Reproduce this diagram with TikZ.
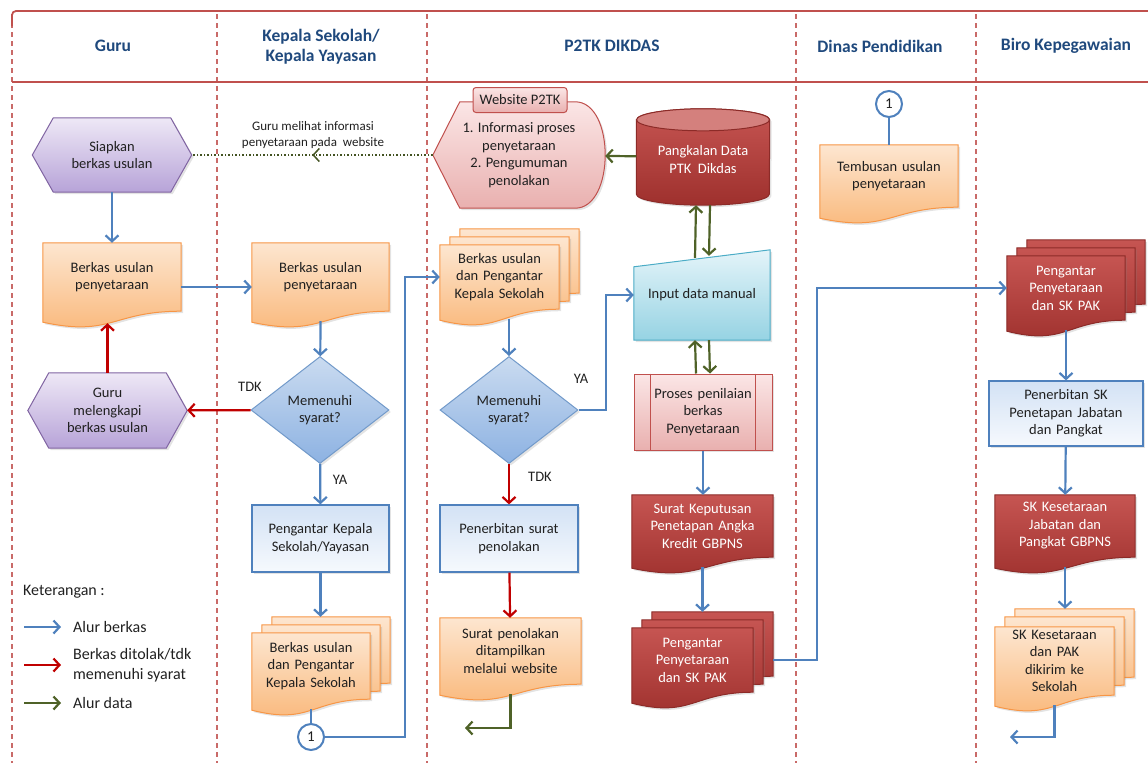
\documentclass[tikz,border=0pt]{standalone}
\usepackage{fontspec}
\setmainfont{Carlito}
\usetikzlibrary{arrows.meta,positioning,calc,backgrounds,shapes.geometric,decorations.markings,shadows}

\definecolor{hdrblue}{HTML}{1F497D}
\definecolor{lanered}{HTML}{C0504D}
\definecolor{txtgray}{HTML}{202020}
\definecolor{flowblue}{HTML}{4F81BD}
\definecolor{flowred}{HTML}{C00000}
\definecolor{flowgreen}{HTML}{4F6228}
\definecolor{orgtop}{HTML}{FDE6D0}
\definecolor{orgbot}{HTML}{F9B677}
\definecolor{orgline}{HTML}{F79646}
\definecolor{purtop}{HTML}{EEE8F6}
\definecolor{purbot}{HTML}{B7A3D8}
\definecolor{purline}{HTML}{8064A2}
\definecolor{bluetop}{HTML}{D3E2F5}
\definecolor{bluebot}{HTML}{F6F9FD}
\definecolor{diatop}{HTML}{CADBF0}
\definecolor{diabot}{HTML}{8DB2E2}
\definecolor{redtop}{HTML}{C65552}
\definecolor{redbot}{HTML}{9E302D}
\definecolor{redline}{HTML}{8C2B28}
\definecolor{pinktop}{HTML}{FBE6E6}
\definecolor{pinkbot}{HTML}{E9B0AF}
\definecolor{cyantop}{HTML}{E4F4F9}
\definecolor{cyanbot}{HTML}{96D3E3}
\definecolor{cyanline}{HTML}{4BACC6}

% document sheet with a wavy lower edge
\newcommand{\docpath}[1]{(#1.north west) -- (#1.north east) -- (#1.south east)
  .. controls (#1.south) and ($(#1.south)+(0,-26)$) .. ($(#1.south west)+(0,-11)$) -- cycle}
% preparation hexagon
\newcommand{\hexpath}[1]{(#1.west) -- ($(#1.north west)+(21,0)$) -- ($(#1.north east)+(-21,0)$)
  -- (#1.east) -- ($(#1.south east)+(-21,0)$) -- ($(#1.south west)+(21,0)$) -- cycle}

\begin{document}
\begin{tikzpicture}[x=1pt,y=1pt,>={Straight Barb[length=6pt,width=13pt]},
    font=\fontsize{14.5}{17.5}\selectfont,text=txtgray]
  \tikzstyle{lane}=[lanered!85,line width=1.2pt,dash pattern=on 5pt off 4pt]
  \tikzstyle{hrule}=[lanered,line width=1.8pt]
  \tikzstyle{hdr}=[font=\fontsize{17.5}{20}\selectfont\bfseries,text=hdrblue,align=center]
  \tikzstyle{txt}=[align=center,inner sep=2pt]
  \tikzstyle{doc}=[txt,minimum height=68pt]
  \tikzstyle{sheet}=[inner sep=0pt]
  \tikzstyle{lbl}=[inner sep=1pt]
  \tikzstyle{lgd}=[font=\fontsize{16}{20}\selectfont,inner sep=1pt,anchor=west]
  \tikzstyle{softshadow}=[drop shadow={opacity=.22,shadow xshift=2pt,shadow yshift=-2pt}]
  \tikzstyle{orgdoc}=[softshadow,draw=orgline,line width=1pt,top color=orgtop,bottom color=orgbot]
  \tikzstyle{reddoc}=[softshadow,draw=redline,line width=1pt,top color=redtop,bottom color=redbot]
  \tikzstyle{purhex}=[softshadow,draw=purline,line width=1pt,top color=purtop,bottom color=purbot]
  \tikzstyle{bluebox}=[txt,softshadow,draw=flowblue,line width=1.2pt,top color=bluetop,bottom color=bluebot,minimum height=67pt]
  \tikzstyle{decision}=[diamond,softshadow,draw=flowblue!80,line width=1pt,top color=diatop,bottom color=diabot,
    minimum width=138pt,minimum height=107pt,inner sep=0pt,align=center]
  \tikzstyle{connector}=[circle,draw=flowblue,line width=2pt,fill=white,minimum size=26pt,inner sep=0pt,
    font=\fontsize{15}{17}\selectfont]
  \tikzstyle{berkas}=[flowblue,line width=2.2pt]
  \tikzstyle{tolak}=[flowred,line width=2.2pt]
  \tikzstyle{alurdata}=[flowgreen,line width=2.2pt]

  \useasboundingbox (0,0) rectangle (1148,-763);

  % lane headings
  \node[hdr] (hguru)   at (113,-46)  {Guru};
  \node[hdr] (hkepala) at (321,-47)  {Kepala Sekolah/\\Kepala Yayasan};
  \node[hdr] (hp2tk)   at (612,-46)  {P2TK DIKDAS};
  \node[hdr] (hdinas)  at (880,-46)  {Dinas Pendidikan};
  \node[hdr] (hbiro)   at (1066,-46) {Biro Kepegawaian};

  % Guru
  \node[txt,minimum width=159pt,minimum height=74pt] (siap) at (112,-155) {Siapkan\\berkas usulan};
  \node[doc,text width=134pt] (gdoc) at (112,-277) {Berkas usulan\\penyetaraan};
  \node[txt,minimum width=159pt,minimum height=75pt] (lengkap) at (107.5,-410.5) {Guru\\melengkapi\\berkas usulan};

  % Kepala Sekolah / Yayasan
  \node[txt,font=\fontsize{13}{15.5}\selectfont] (lihat) at (313,-135) {Guru melihat informasi\\penyetaraan pada\ \ website};
  \node[doc,text width=133pt] (kdoc) at (320.5,-277) {Berkas usulan\\penyetaraan};
  \node[decision] (kdia) at (320,-410) {Memenuhi\\syarat?};
  \node[bluebox,text width=133pt] (kbox) at (320.5,-538.5) {Pengantar Kepala\\Sekolah/Yayasan};
  \node[sheet,minimum width=118pt,minimum height=66pt] (kmulti-2) at (331,-650) {};
  \node[sheet,minimum width=118pt,minimum height=66pt] (kmulti-1) at (321,-658) {};
  \node[doc,minimum width=118pt,text width=112pt,minimum height=66pt] (kmulti) at (311,-666) {Berkas usulan\\dan Pengantar\\Kepala Sekolah};
  \node[connector] (circ1) at (311,-737) {1};
  \node[lbl] (tdk1) at (250,-387) {TDK};
  \node[lbl] (ya1) at (340,-480) {YA};

  % P2TK DIKDAS
  \node[txt,minimum width=172pt,minimum height=106pt] (web) at (519,-155) {1. Informasi proses\\penyetaraan\\2. Pengumuman\\penolakan};
  \node[txt,rounded corners=3pt,draw=lanered,line width=1pt,top color=pinktop,bottom color=pinkbot,
    minimum width=94pt,minimum height=25pt] (webtab) at (520,-100) {Website P2TK};
  \node[txt,text=white,minimum width=133pt,minimum height=96pt] (db) at (703,-157) {\\[-2pt]Pangkalan Data\\PTK\ \ Dikdas};
  \node[sheet,minimum width=119pt,minimum height=64pt] (pmulti-2) at (519.5,-261) {};
  \node[sheet,minimum width=119pt,minimum height=64pt] (pmulti-1) at (509.5,-269) {};
  \node[doc,minimum width=119pt,text width=113pt,minimum height=64pt] (pmulti) at (499.5,-277) {Berkas usulan\\dan Pengantar\\Kepala Sekolah};
  \node[txt,minimum width=136pt,minimum height=90pt] (inp) at (702,-295) {Input data manual};
  \node[decision] (pdia) at (509,-410) {Memenuhi\\syarat?};
  \node[txt,softshadow,draw=lanered,line width=1pt,top color=pinktop,bottom color=pinkbot,
    minimum width=138pt,minimum height=76pt,text width=108pt] (proses) at (703,-412) {Proses penilaian\\berkas\\Penyetaraan};
  \node[bluebox,text width=134pt] (pbox) at (509,-538.5) {Penerbitan surat\\penolakan};
  \node[doc,text width=137pt,minimum height=66pt] (pdoc) at (510.5,-651) {Surat penolakan\\ditampilkan\\melalui website};
  \node[doc,text=white,text width=137pt,minimum height=62pt] (sk) at (702.5,-526) {Surat Keputusan\\Penetapan Angka\\Kredit GBPNS};
  \node[sheet,minimum width=121pt,minimum height=64pt] (rmulti-2) at (712.5,-644) {};
  \node[sheet,minimum width=121pt,minimum height=64pt] (rmulti-1) at (702.5,-652) {};
  \node[doc,text=white,minimum width=121pt,text width=115pt,minimum height=64pt] (rmulti) at (692.5,-660) {Pengantar\\Penyetaraan\\dan SK PAK};
  \node[lbl] (ya2) at (581,-379) {YA};
  \node[lbl] (tdk2) at (540,-477) {TDK};

  % Dinas Pendidikan
  \node[connector] (circ2) at (889,-104) {1};
  \node[doc,text width=134pt,minimum height=62pt] (tdoc) at (889,-176) {Tembusan usulan\\penyetaraan};

  % Biro Kepegawaian
  \node[sheet,minimum width=118pt,minimum height=64pt] (bmulti-2) at (1086,-272) {};
  \node[sheet,minimum width=118pt,minimum height=64pt] (bmulti-1) at (1076,-280) {};
  \node[doc,text=white,minimum width=118pt,text width=112pt,minimum height=64pt] (bmulti) at (1066,-288) {Pengantar\\Penyetaraan\\dan SK PAK};
  \node[bluebox,text width=150pt,minimum height=65pt] (bbox) at (1066,-413.5) {Penerbitan SK\\Penetapan Jabatan\\dan Pangkat};
  \node[doc,text=white,text width=136pt,minimum height=62pt] (bdoc) at (1065,-526) {SK Kesetaraan\\Jabatan dan\\Pangkat GBPNS};
  \node[sheet,minimum width=119pt,minimum height=68pt] (bmulti2-2) at (1074.5,-643) {};
  \node[sheet,minimum width=119pt,minimum height=68pt] (bmulti2-1) at (1064.5,-651) {};
  \node[doc,inner sep=0pt,minimum width=119pt,text width=117pt,minimum height=68pt] (bmulti2) at (1054.5,-661) {SK Kesetaraan\\dan PAK\\dikirim ke\\Sekolah};

  % legend
  \node[lgd] (ket) at (22,-592) {Keterangan :};
  \node[lgd] (lt1) at (72,-627) {Alur berkas};
  \node[lgd,align=left] (lt2) at (72,-665) {Berkas ditolak/tdk\\memenuhi syarat};
  \node[lgd] (lt3) at (72,-703) {Alur data};
  \coordinate (la1) at (24,-627);
  \coordinate (la2) at (24,-665);
  \coordinate (la3) at (24,-703);

  % bends
  \coordinate (j1) at (405,-500);
  \coordinate (j2) at (606,-350);
  \coordinate (j3) at (817,-450);
  \coordinate (pout) at (465,-728);
  \coordinate (bout) at (1010,-737);

  \begin{scope}[on background layer]
    % lanes
    \foreach \x in {12,217,427,796,976}
      \draw[lane] (\x,-14) -- (\x,-763);
    \draw[hrule,rounded corners=4pt] (12,-26) |- (1148,-11);
    \draw[hrule] (12,-82) -- (1148,-82);
    % shapes
    \foreach \n in {siap,lengkap}
      \draw[purhex] \hexpath{\n};
    \foreach \n in {gdoc,kdoc,kmulti-2,kmulti-1,kmulti,pmulti-2,pmulti-1,pmulti,pdoc,tdoc,bmulti2-2,bmulti2-1,bmulti2}
      \draw[orgdoc] \docpath{\n};
    \foreach \n in {sk,rmulti-2,rmulti-1,rmulti,bmulti-2,bmulti-1,bmulti,bdoc}
      \draw[reddoc] \docpath{\n};
    \draw[softshadow,draw=lanered,line width=1pt,top color=pinktop,bottom color=pinkbot]
      (web.west) -- ($(web.north west)+(27,0)$) -- ($(web.north east)+(-30,0)$)
      .. controls ($(web.north east)+(10,0)$) and ($(web.south east)+(10,0)$) .. ($(web.south east)+(-30,0)$)
      -- ($(web.south west)+(27,0)$) -- cycle;
    \draw[softshadow,draw=redline,line width=1pt,top color=redtop,bottom color=redbot]
      ($(db.north west)+(0,-11)$) -- ($(db.south west)+(0,11)$)
      arc[start angle=180,end angle=360,x radius=66.5,y radius=11]
      -- ($(db.north east)+(0,-11)$)
      arc[start angle=0,end angle=180,x radius=66.5,y radius=11] -- cycle;
    \draw[redline,line width=1pt,fill=redtop!75!white] ($(db.north)+(0,-11)$) ellipse[x radius=66.5,y radius=11];
    \draw[softshadow,draw=cyanline,line width=1pt,top color=cyantop,bottom color=cyanbot]
      ($(inp.north west)+(0,-17)$) -- (inp.north east) -- (inp.south east) -- (inp.south west) -- cycle;
  \end{scope}

  \draw[lanered,line width=1pt] ([xshift=17pt]proses.north west) -- ([xshift=17pt]proses.south west);
  \draw[lanered,line width=1pt] ([xshift=-17pt]proses.north east) -- ([xshift=-17pt]proses.south east);

  % alur berkas
  \path[berkas,->]
  (siap) edge (gdoc)
  (kbox) edge (kbox.south |- kmulti-2.north)
  (bbox) edge (bdoc);
  \draw[berkas,->] ([yshift=-10pt]gdoc.east) -- ([yshift=-10pt]kdoc.west);
  \draw[berkas,->] ([yshift=-10pt]kdoc.south) -- (kdia);
  \draw[berkas,->] (kdia) -- (kbox);
  \draw[berkas] ([yshift=-10pt]kmulti.south) -- (circ1);
  \draw[berkas,->] (circ1) -| (j1) |- (pmulti);
  \draw[berkas,->] ($(pdia.north |- pmulti.south)+(0,-10)$) -- (pdia);
  \draw[berkas,->] (pdia) -| (j2) |- (inp);
  \draw[berkas,->] (proses) -- (proses.south |- sk.north);
  \draw[berkas,->] ([yshift=-10pt]sk.south) -- (sk.south |- rmulti-2.north);
  \draw[berkas,->] (rmulti.east -| rmulti-2.east) -| (j3) |- (bmulti);
  \draw[berkas] (circ2) -- (tdoc);
  \draw[berkas,->] ([yshift=-10pt]bmulti.south) -- (bbox);
  \draw[berkas,->] ([yshift=-10pt]bdoc.south) -- (bdoc.south |- bmulti2-2.north);
  \draw[berkas,->] ([yshift=-10pt]bmulti2.south) |- (bout);

  % ditolak
  \draw[tolak,->] (kdia) -- (lengkap);
  \draw[tolak,->] (lengkap) -- ($(lengkap.north |- gdoc.south)+(0,-12)$);
  \draw[tolak,->] (pdia) -- (pbox);
  \draw[tolak,->] (pbox) -- (pdoc);

  % alur data
  \draw[alurdata,->] (db) -- (web);
  \draw[alurdata,->] ([xshift=-7pt,yshift=-8pt]inp.north) -- ([xshift=-7pt]db.south);
  \draw[alurdata,->] ([xshift=7pt]db.south) -- ([xshift=7pt,yshift=-6pt]inp.north);
  \draw[alurdata,->] ([xshift=-7pt]proses.north) -- ([xshift=-7pt]inp.south);
  \draw[alurdata,->] ([xshift=7pt]inp.south) -- ([xshift=7pt]proses.north);
  \draw[alurdata,->] ([yshift=-10pt]pdoc.south) |- (pout);
  \draw[flowgreen!85!black,line width=1.5pt,dotted,postaction={decorate},
    decoration={markings,mark=at position 0.5 with {\arrow{>}}}] (web.west) -- (siap.east);

  % legend arrows
  \draw[berkas,->] (la1) -- ([xshift=-11pt]lt1.west);
  \draw[tolak,->] (la2) -- ([xshift=-11pt]la2 -| lt2.west);
  \draw[alurdata,->] (la3) -- ([xshift=-11pt]lt3.west);
\end{tikzpicture}
\end{document}
